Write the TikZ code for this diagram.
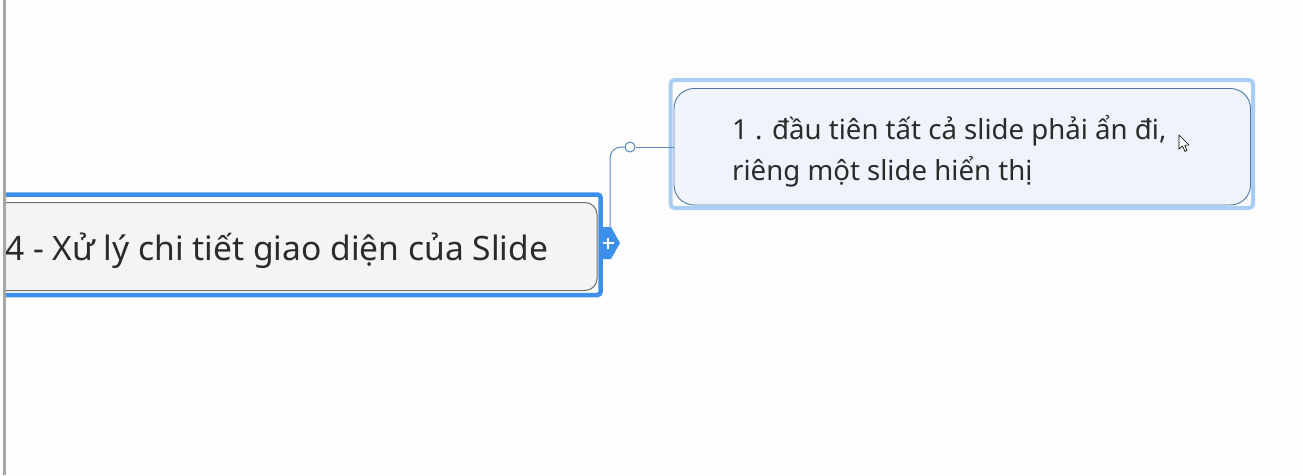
\documentclass[tikz,border=0pt]{standalone}
\usepackage{fontspec}
\setmainfont{Noto Sans}
\definecolor{selblue}{HTML}{3C8FEA}
\definecolor{lightsel}{HTML}{A9CEF5}
\definecolor{mainfill}{HTML}{F4F4F6}
\definecolor{mainedge}{HTML}{6E6E70}
\definecolor{childfill}{HTML}{EEF3FC}
\definecolor{childedge}{HTML}{4F77AC}
\definecolor{conn}{HTML}{5A88C4}
\definecolor{txt}{HTML}{2B2B2B}
\definecolor{bg}{HTML}{FDFDFD}
\tikzset{
  maintext/.style={anchor=base west, inner sep=0pt, text=txt, font=\fontsize{33.6}{40}\selectfont},
  childtext/.style={anchor=base west, inner sep=0pt, text=txt, font=\fontsize{27.6}{33}\selectfont},
}
\begin{document}
\begin{tikzpicture}[x=1pt,y=-1pt]
\useasboundingbox (0,0) rectangle (1303,475);
\fill[bg] (0,0) rectangle (1303,475);
% main node (clipped at left)
\begin{scope}
\clip (5,0) rectangle (1303,475);
\draw[selblue, line width=4.5pt, rounded corners=3pt] (-20,194.5) rectangle (600.5,295);
\draw[mainedge, fill=mainfill, line width=1pt, rounded corners=12pt] (-20,202.5) rectangle (597,290.5);
\node[maintext] (main) at (5,260) {4 - Xử lý chi tiết giao diện của Slide};
\end{scope}
% left bar
\draw[gray!70, line width=3pt] (4,0) -- (4,475);
% child node
\draw[lightsel, line width=4pt, rounded corners=4pt] (670.5,80) rectangle (1253,208);
\draw[childedge, fill=childfill, line width=0.9pt, rounded corners=20pt] (674,88.5) rectangle (1250.5,205);
\coordinate (childW) at (674,147);
\node[childtext] (c1) at (732,139) {1 . đầu tiên tất cả slide phải ẩn đi,};
\node[childtext] (c2) at (732,180) {riêng một slide hiển thị};
% plus badge
\coordinate (badge) at (608,243);
\fill[selblue] (600,227) -- (611,227) -- (620,243) -- (611,259) -- (600,259) -- cycle;
\draw[white, line width=2.6pt] (602.5,243) -- (613.5,243) (608,237.5) -- (608,248.5);
% connector
\node[circle, draw=conn, fill=white, line width=1pt, minimum size=10pt, inner sep=0pt] (knot) at (630,147) {};
\draw[conn, line width=1pt, rounded corners=11pt] (610,227) |- (knot.west);
\draw[conn, line width=1pt] (knot.east) -- (childW);
% mouse cursor
\draw[black, fill=white, line width=0.6pt, line join=round]
  (1179,135) -- (1179,149) -- (1182.5,146) -- (1185,151.5) -- (1187,150.5) -- (1184.8,145.3) -- (1189,145) -- cycle;
\end{tikzpicture}
\end{document}
